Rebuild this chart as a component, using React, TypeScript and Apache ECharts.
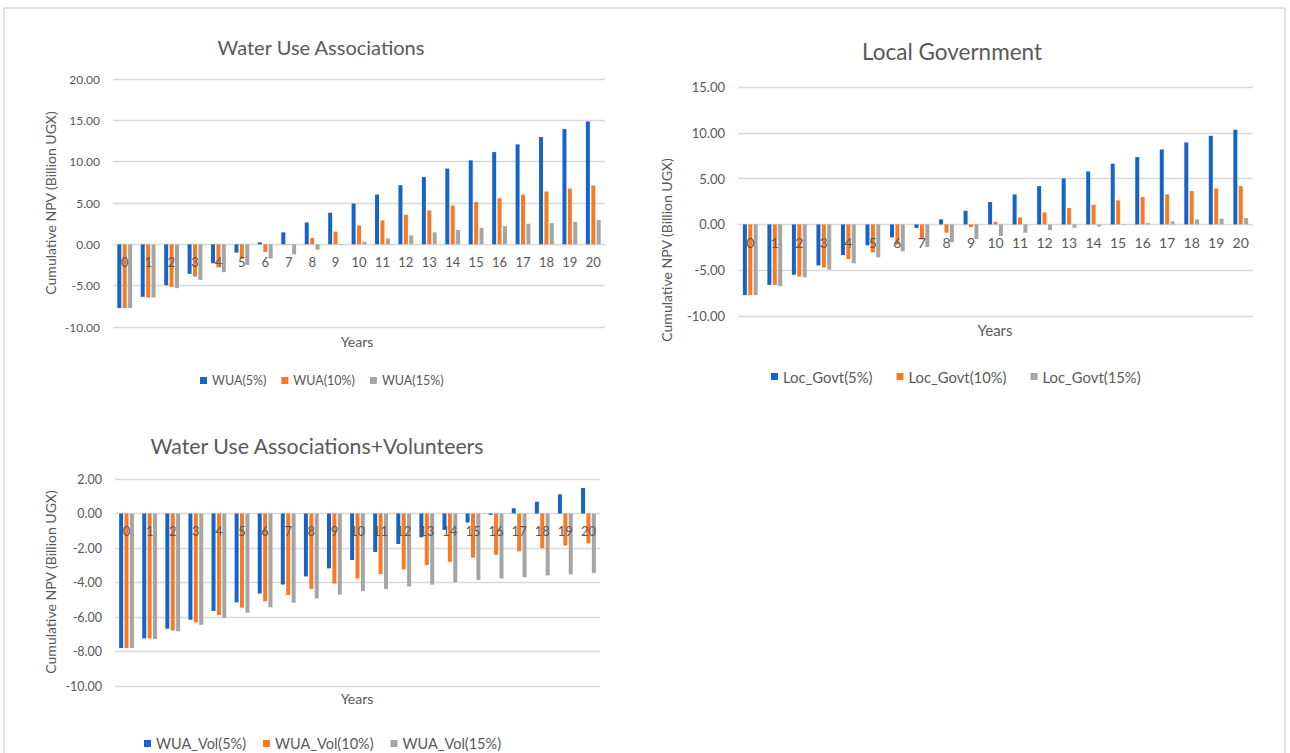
import React, { useEffect, useRef } from "react";
import * as echarts from "echarts";

const years = ["0","1","2","3","4","5","6","7","8","9","10","11","12","13","14","15","16","17","18","19","20"];

const wua5 = [-7.7,-6.35,-4.94,-3.57,-2.29,-1.0,0.24,1.45,2.65,3.82,4.94,6.02,7.15,8.15,9.16,10.16,11.16,12.09,12.97,13.94,14.86];
const wua10 = [-7.7,-6.43,-5.14,-3.9,-2.8,-1.73,-0.92,-0.05,0.76,1.53,2.29,2.89,3.57,4.1,4.7,5.14,5.58,6.02,6.39,6.75,7.11];
const wua15 = [-7.7,-6.43,-5.3,-4.3,-3.37,-2.49,-1.73,-1.2,-0.64,-0.08,0.32,0.72,1.08,1.45,1.73,2.0,2.2,2.49,2.57,2.73,2.93];

const loc5 = [-7.72,-6.6,-5.5,-4.48,-3.35,-2.29,-1.42,-0.4,0.55,1.49,2.44,3.27,4.18,5.02,5.78,6.62,7.35,8.18,8.95,9.67,10.33];
const loc10 = [-7.72,-6.6,-5.7,-4.7,-3.78,-3.05,-2.22,-1.56,-0.91,-0.29,0.29,0.76,1.31,1.78,2.15,2.62,2.98,3.27,3.64,3.93,4.18];
const loc15 = [-7.72,-6.73,-5.77,-4.93,-4.25,-3.6,-2.95,-2.47,-1.96,-1.6,-1.27,-0.91,-0.62,-0.36,-0.22,-0.05,0.15,0.33,0.55,0.62,0.69];

const vol5 = [-7.8,-7.24,-6.68,-6.16,-5.65,-5.15,-4.64,-4.12,-3.65,-3.18,-2.7,-2.23,-1.77,-1.38,-0.95,-0.52,-0.08,0.31,0.68,1.11,1.48];
const vol10 = [-7.8,-7.24,-6.78,-6.31,-5.88,-5.46,-5.09,-4.72,-4.37,-4.06,-3.77,-3.5,-3.24,-2.99,-2.8,-2.56,-2.39,-2.19,-2.02,-1.86,-1.73];
const vol15 = [-7.8,-7.28,-6.83,-6.45,-6.06,-5.75,-5.44,-5.17,-4.93,-4.7,-4.5,-4.37,-4.23,-4.12,-3.98,-3.86,-3.77,-3.69,-3.59,-3.53,-3.44];

const titles = ["Water Use Associations", "Local Government", "Water Use Associations+Volunteers"];
const yName = "Cumulative NPV (Billion UGX)";
const xName = "Years";
const names1 = ["WUA(5%)", "WUA(10%)", "WUA(15%)"];
const names2 = ["Loc_Govt(5%)", "Loc_Govt(10%)", "Loc_Govt(15%)"];
const names3 = ["WUA_Vol(5%)", "WUA_Vol(10%)", "WUA_Vol(15%)"];

const COLORS = ["#1565c8", "#f97a24", "#a5a5a5"];
const FONT = "Lato, 'Open Sans', sans-serif";
const TXT = "#595959";
const GRID = "#d9d9d9";

export default function App() {
  const ref = useRef<HTMLDivElement>(null);
  useEffect(() => {
    if (!ref.current) return;
    const chart = echarts.init(ref.current, undefined, { renderer: "svg" });

    const grids = [
      { left: 113, top: 79, width: 492, height: 248 },
      { left: 738, top: 87, width: 515, height: 229 },
      { left: 115, top: 479, width: 485, height: 207 },
    ];
    const yRanges = [
      { min: -10, max: 20, interval: 5 },
      { min: -10, max: 15, interval: 5 },
      { min: -10, max: 2, interval: 2 },
    ];
    const fs = [12, 13, 12.5];
    const catFs = [13, 14, 13];
    // distance from zero line to the bottom of each plot area, via the value scale
    const zeroOffset = grids.map((g, i) => (g.height * (0 - yRanges[i].min)) / (yRanges[i].max - yRanges[i].min));
    const xAxes = grids.map((g, i) => ({
      type: "category",
      gridIndex: i,
      data: years,
      z: 5,
      axisTick: { show: false },
      axisLine: { show: false, onZero: false },
      axisLabel: {
        color: TXT,
        fontSize: catFs[i],
        fontFamily: FONT,
        margin: -(zeroOffset[i] - 11),
        interval: 0,
      },
    }));
    const yAxes = grids.map((g, i) => ({
      type: "value",
      gridIndex: i,
      ...yRanges[i],
      axisLine: { show: false },
      axisTick: { show: false },
      splitLine: { lineStyle: { color: GRID, width: 1.3 } },
      axisLabel: {
        color: TXT,
        fontSize: fs[i],
        fontFamily: FONT,
        margin: 13,
        formatter: (v: number) => v.toFixed(2),
      },
    }));

    const groups = [
      { names: names1, data: [wua5, wua10, wua15] },
      { names: names2, data: [loc5, loc10, loc15] },
      { names: names3, data: [vol5, vol10, vol15] },
    ];
    const series: any[] = [];
    groups.forEach((gp, gi) => {
      gp.names.forEach((n, si) => {
        series.push({
          type: "bar",
          name: n,
          xAxisIndex: gi,
          yAxisIndex: gi,
          data: gp.data[si],
          barWidth: 4,
          barGap: "35%",
          itemStyle: { color: COLORS[si] },
        });
      });
    });

    const legendCfg = [
      { left: 200, top: 374, fontSize: 12.5, gap: 15 },
      { left: 771, top: 369, fontSize: 14.8, gap: 24 },
      { left: 144, top: 736, fontSize: 14.5, gap: 17 },
    ];
    const legends = groups.map((gp, i) => ({
      data: gp.names,
      left: legendCfg[i].left,
      top: legendCfg[i].top,
      padding: 0,
      icon: "rect",
      itemWidth: 7,
      itemHeight: 7,
      itemGap: legendCfg[i].gap,
      textStyle: { color: TXT, fontSize: legendCfg[i].fontSize, fontFamily: FONT },
    }));

    const txt = (text: string, x: number, y: number, size: number, rot = 0) => ({
      type: "text",
      x,
      y,
      rotation: rot,
      style: {
        text,
        fill: TXT,
        fontSize: size,
        fontFamily: FONT,
        textAlign: "center",
        textVerticalAlign: "middle",
        align: "center",
        verticalAlign: "middle",
      },
    });

    chart.setOption({
      animation: false,
      backgroundColor: "#ffffff",
      grid: grids,
      xAxis: xAxes,
      yAxis: yAxes,
      legend: legends,
      series,
      graphic: [
        {
          type: "rect",
          shape: { x: 4, y: 8, width: 1281, height: 760 },
          style: { fill: "none", stroke: "#c8c8c8", lineWidth: 1 },
          silent: true,
        },
        txt(titles[0], 321, 47, 20),
        txt(titles[1], 952, 51, 22.5),
        txt(titles[2], 317, 446, 21.3),
        txt(yName, 50, 203, 14, Math.PI / 2),
        txt(yName, 666, 250, 14, Math.PI / 2),
        txt(yName, 50, 582, 14, Math.PI / 2),
        txt(xName, 357, 341, 14),
        txt(xName, 995, 330, 15),
        txt(xName, 357, 698, 14),
      ],
    });
    return () => chart.dispose();
  }, []);
  return (
    <div
      ref={ref}
      style={{ position: "absolute", left: 0, top: 0, width: 1290, height: 753 }}
    />
  );
}
